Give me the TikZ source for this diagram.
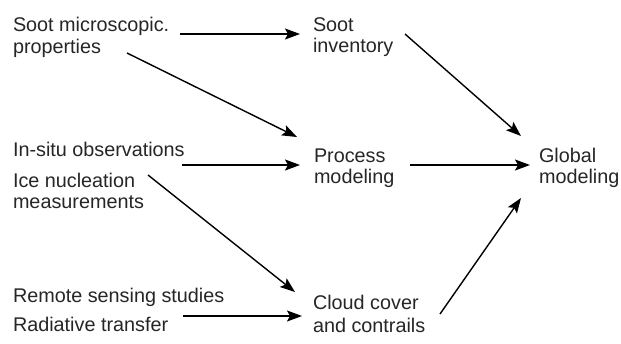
\documentclass[tikz,border=0pt]{standalone}
\usepackage{fontspec}
\setmainfont{Liberation Sans}
\usetikzlibrary{arrows.meta,calc}
\newcommand\twolines[2]{\begin{tabular}[t]{@{}l@{}}#1\\#2\end{tabular}}
\begin{document}
\begin{tikzpicture}[x=1pt,y=-1pt,
  lbl/.style={anchor=base west,inner sep=0pt,outer sep=0pt,font=\fontsize{19.8}{21.5}\selectfont,text=black!85},
  arr/.style={line width=1.4pt,-{Stealth[length=15pt,width=11pt,inset=3pt]}}]
\useasboundingbox[fill=white] (0,0) rectangle (621,343);
\node[lbl] (sm)   at (13,31.5)  {\twolines{Soot microscopic.}{properties}};
\node[lbl] (ins)  at (13,156)   {In-situ observations};
\node[lbl] (ice)  at (13,187)   {\twolines{Ice nucleation}{measurements}};
\node[lbl] (rs)   at (13,302)   {Remote sensing studies};
\node[lbl] (rt)   at (13,331)   {Radiative transfer};
\node[lbl] (inv)  at (313,31)   {\twolines{Soot}{inventory}};
\node[lbl] (proc) at (314,162)  {\twolines{Process}{modeling}};
\node[lbl,font=\fontsize{19.8}{23}\selectfont] (cloud) at (313,309.5) {\twolines{Cloud cover}{and contrails}};
\node[lbl] (glob) at (539,162)  {\twolines{Global}{modeling}};
% arrows
\draw[arr] ($(sm.base west)+(167,2.5)$) -- ($(inv.base west)+(-13,3)$);
\draw[arr] ($(sm.base west)+(114,21.5)$) -- ($(proc.base west)+(-17,-25)$);
\draw[arr] ($(ins.base west)+(169,9)$) -- ($(proc.base west)+(-14,3)$);
\draw[arr] ($(inv.base west)+(92,3)$) -- ($(glob.base west)+(-18,-26)$);
\draw[arr] ($(proc.base west)+(96,3)$) -- ($(glob.base west)+(-9,3)$);
\draw[arr] ($(ice.base west)+(135,-12)$) -- ($(cloud.base west)+(-18,-17.5)$);
\draw[arr] ($(rs.base west)+(170,14)$) -- ($(cloud.base west)+(-11,6.5)$);
\draw[arr] ($(cloud.base west)+(127,4.5)$) -- ($(glob.base west)+(-18,36)$);
\end{tikzpicture}
\end{document}
